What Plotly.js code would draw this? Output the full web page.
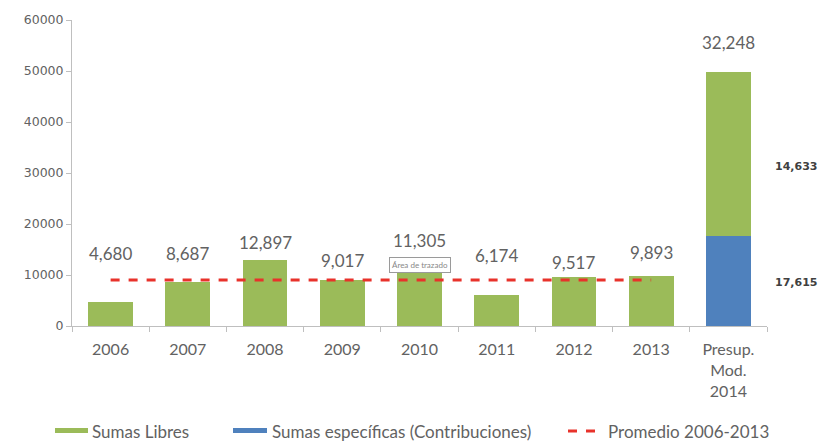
<!DOCTYPE html>
<html><head><meta charset="utf-8">
<script src="https://cdn.plot.ly/plotly-3.0.1.min.js"></script>
<style>html,body{margin:0;padding:0;background:#fff}#chart{width:818px;height:441px}</style>
</head><body><div id="chart"></div>
<script>
const categories = ['2006','2007','2008','2009','2010','2011','2012','2013','Presup.<br>Mod.<br>2014'];
const sumasLibres = [4680, 8687, 12897, 9017, 11305, 6174, 9517, 9893, 32248];
const sumasEspecificas = [null, null, null, null, null, null, null, null, 17615];
const promedioCats = ['2006','2007','2008','2009','2010','2011','2012','2013'];
const promedio = [9021, 9021, 9021, 9021, 9021, 9021, 9021, 9021];
const valueLabels = ['4,680','8,687','12,897','9,017','11,305','6,174','9,517','9,893','32,248'];
const sideLabels = ['14,633','17,615'];
const legendNames = ['Sumas Libres','Sumas específicas (Contribuciones)','Promedio 2006-2013'];

// label heights (layout positions, in axis units)
const labelY = [14300, 14300, 16300, 12900, 16700, 13900, 12400, 14500, 55500];

const font = 'Lato, Carlito, Calibri, "Liberation Sans", sans-serif';
const W = 818, H = 441, M = {l:72, r:51, t:20, b:115};
const pw = W - M.l - M.r, ph = H - M.t - M.b;
const px = v => (v - M.l) / pw;          // pixel x -> paper
const py = v => (H - M.b - v) / ph;       // pixel y -> paper

const traces = [
  {type:'bar', x:categories, y:sumasEspecificas, name:legendNames[1],
   marker:{color:'#4F81BD'}, showlegend:false, hoverinfo:'y'},
  {type:'bar', x:categories, y:sumasLibres, name:legendNames[0],
   marker:{color:'#9BBB59'}, showlegend:false, hoverinfo:'y'},
  {type:'scatter', mode:'lines', x:promedioCats, y:promedio, name:legendNames[2],
   line:{color:'#E8322B', width:3, dash:'dash'}, showlegend:false, hoverinfo:'y'}
];

const txtColor = '#626262';
const annotations = valueLabels.map((t,i)=>({
  x:i, y:labelY[i], xref:'x', yref:'y', text:t, showarrow:false,
  font:{family:font, size:17, color:txtColor}
}));
annotations.push({x:8, y:31200, xref:'x', yref:'y', xshift:68, text:sideLabels[0], showarrow:false,
  font:{family:'"DejaVu Sans", sans-serif', size:11, color:'#404040', weight:'bold'}});
annotations.push({x:8, y:8600, xref:'x', yref:'y', xshift:68, text:sideLabels[1], showarrow:false,
  font:{family:'"DejaVu Sans", sans-serif', size:11, color:'#404040', weight:'bold'}});
annotations.push({x:4, y:11950, xref:'x', yref:'y', text:'Área de trazado', showarrow:false,
  font:{family:font, size:8, color:'#888'}, bordercolor:'#9a9a9a', borderwidth:1, borderpad:2, bgcolor:'#fff'});

// manual legend
const legY = 431;
const legText = [90, 270, 606];
legendNames.forEach((n,i)=>annotations.push({x:px(legText[i]), y:py(legY), xref:'paper', yref:'paper',
  xanchor:'left', yanchor:'middle', text:n, showarrow:false, font:{family:font, size:17, color:txtColor}}));

const shapes = [
  {type:'rect', xref:'paper', yref:'paper', x0:px(55), x1:px(88), y0:py(433), y1:py(428),
   fillcolor:'#9BBB59', line:{width:0}},
  {type:'rect', xref:'paper', yref:'paper', x0:px(233), x1:px(267), y0:py(433), y1:py(428),
   fillcolor:'#4F81BD', line:{width:0}},
  {type:'line', xref:'paper', yref:'paper', x0:px(568), x1:px(598), y0:py(legY), y1:py(legY),
   line:{color:'#E8322B', width:3, dash:'dash'}}
];

const layout = {
  width:W, height:H, margin:M,
  paper_bgcolor:'#fff', plot_bgcolor:'#fff',
  barmode:'stack', bargap:0.42, showlegend:false,
  font:{family:font, color:txtColor},
  xaxis:{type:'category', range:[-0.5, 8.5], showline:true, linecolor:'#BFBFBF', linewidth:1,
    ticks:'outside', ticklen:5, tickcolor:'#BFBFBF', tickson:'boundaries', ticklabelstandoff:9,
    tickfont:{family:font, size:16, color:txtColor}, showgrid:false, fixedrange:true},
  yaxis:{range:[0, 60000], tickvals:[0,10000,20000,30000,40000,50000,60000], tickformat:'d',
    showline:true, linecolor:'#BFBFBF', linewidth:1, ticks:'outside', ticklen:5, tickcolor:'#BFBFBF',
    showgrid:false, zeroline:false, tickfont:{family:'"DejaVu Sans", sans-serif', size:12.5, color:txtColor},
    fixedrange:true},
  annotations:annotations, shapes:shapes
};
Plotly.newPlot('chart', traces, layout, {displayModeBar:false, staticPlot:true});
</script></body></html>
